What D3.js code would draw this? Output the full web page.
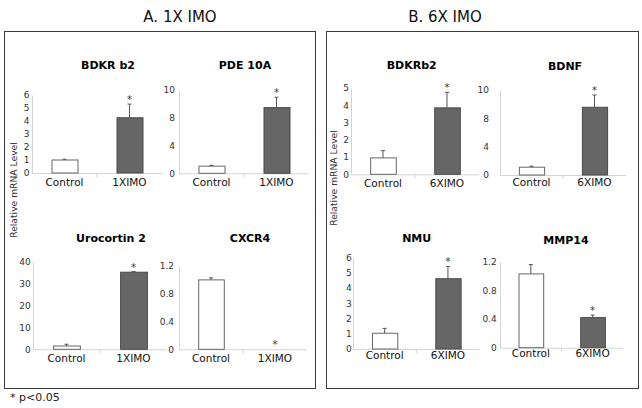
<!DOCTYPE html>
<html><head><meta charset="utf-8">
<script src="https://cdn.jsdelivr.net/npm/d3@7"></script>
<style>
html,body{margin:0;padding:0;background:#fff;}
svg{display:block;font-family:"DejaVu Sans",Verdana,sans-serif;}
</style></head>
<body><svg id="chart" width="642" height="408"></svg>
<script>
// ---- data ----
const panelTitles = ["A.  1X IMO", "B. 6X IMO"];
const genes = ["BDKR b2", "PDE 10A", "Urocortin 2", "CXCR4", "BDKRb2", "BDNF", "NMU", "MMP14"];
const groupsA = ["Control", "1XIMO"];
const groupsB = ["Control", "6XIMO"];
const controlMean = [1.0, 1.03, 1.5, 1.0, 0.95, 1.1, 1.03, 1.03];
const controlErr  = [0.06, 0.12, 0.8, 0.03, 0.42, 0.15, 0.32, 0.13];
const treatedMean = [4.25, 8.73, 35.2, 0.0, 3.85, 8.78, 4.6, 0.42];
const treatedErr  = [1.05, 0.75, 0.3, 0.0, 0.9, 0.87, 0.8, 0.035];
const treatedSig  = [true, true, true, true, true, true, true, true];
const yTickValues = [
  [0,1,2,3,4,5,6], [0,4,8,10], [0,10,20,30,40], [0,0.4,0.8,1.2],
  [0,1,2,3,4,5], [0,4,8,10], [0,1,2,3,4,5,6], [0,0.4,0.8,1.2]
];
const yAxisTitle = "Relative mRNA Level";
const footnote = "* p<0.05";

// ---- layout (positions only) ----
const layout = [
  {ax:32,  base:173,   top:95,    band:65,   tx:108,   ty:68.5,  ly:186,   pad:2.5, panel:0},
  {ax:179, base:173.3, top:90,    band:65,   tx:245,   ty:68.5,  ly:186,   pad:4,   panel:0},
  {ax:33,  base:349.3, top:261.7, band:67,   tx:111,   ty:241.5, ly:362,   pad:2.3, panel:0},
  {ax:179, base:349.3, top:266,   band:64,   tx:250,   ty:241.5, ly:362,   pad:5,   panel:0},
  {ax:351, base:174.3, top:88,    band:64,   tx:411.7, ty:68.5,  ly:186.5, pad:2,   panel:1},
  {ax:500, base:175,   top:90,    band:63,   tx:565,   ty:69.5,  ly:186,   pad:11,  panel:1},
  {ax:353, base:349,   top:257.3, band:63.3, tx:416.7, ty:241.5, ly:359.3, pad:1.3, panel:1},
  {ax:500, base:347.7, top:261.7, band:61.7, tx:566,   ty:244,   ly:356.7, pad:3.3, panel:1}
];

const svg = d3.select("#chart");

// panel frames and titles
const frames = [{x:4, y:31, w:311, h:357, tx:180, yt:{x:14, y:190}}, {x:326, y:31, w:312, h:357, tx:445, yt:{x:334, y:178}}];
frames.forEach((f, i) => {
  svg.append("rect").attr("x", f.x + 0.5).attr("y", f.y + 0.5).attr("width", f.w).attr("height", f.h)
    .attr("fill", "none").attr("stroke", "#3a3a3a").attr("stroke-width", 1);
  svg.append("text").attr("x", f.tx).attr("y", 22).attr("text-anchor", "middle")
    .attr("font-size", 15).attr("fill", "#111").text(panelTitles[i]);
  svg.append("text").attr("transform", `translate(${f.yt.x + 3},${f.yt.y}) rotate(-90)`)
    .attr("text-anchor", "middle").attr("font-size", 9.2).attr("fill", "#333").text(yAxisTitle);
});

svg.append("text").attr("x", 10).attr("y", 401).attr("font-size", 11).attr("fill", "#222").text(footnote);

genes.forEach((gene, i) => {
  const L = layout[i];
  const cats = L.panel === 0 ? groupsA : groupsB;
  const ticks = yTickValues[i];
  const y = d3.scaleLinear().domain(ticks)
    .range(ticks.map((_, k) => L.base - k * (L.base - L.top) / (ticks.length - 1)));
  const x = d3.scaleBand().domain(cats).range([L.ax, L.ax + 2 * L.band]).paddingInner(0.6).paddingOuter(0.3);
  const g = svg.append("g");

  // title
  g.append("text").attr("x", L.tx).attr("y", L.ty).attr("text-anchor", "middle")
    .attr("font-size", 11).attr("font-weight", "bold").attr("fill", "#000").text(gene);

  // y axis
  const yAxis = d3.axisLeft(y).tickValues(ticks).tickSize(0).tickPadding(L.pad)
    .tickFormat(d => d === 0 ? "0" : String(d));
  const ag = g.append("g").attr("transform", `translate(${L.ax},0)`).call(yAxis);
  ag.select(".domain").attr("stroke", "#d4d4d4");
  ag.selectAll("text").attr("font-size", 9).attr("fill", "#333").attr("font-family", "DejaVu Sans, sans-serif");

  // baseline + category separators
  g.append("line").attr("x1", L.ax).attr("x2", L.ax + 2 * L.band).attr("y1", L.base + 0.5).attr("y2", L.base + 0.5)
    .attr("stroke", "#d4d4d4");
  g.append("line").attr("x1", L.ax + L.band).attr("x2", L.ax + L.band).attr("y1", L.base).attr("y2", L.base + 4)
    .attr("stroke", "#d4d4d4");

  const rows = [
    {cat: cats[0], mean: controlMean[i], err: controlErr[i], fill: "#ffffff", stroke: "#666", sig: false},
    {cat: cats[1], mean: treatedMean[i], err: treatedErr[i], fill: "#666666", stroke: "#4a4a4a", sig: treatedSig[i]}
  ];

  rows.forEach(r => {
    const cx = x(r.cat) + x.bandwidth() / 2;
    if (r.mean > 0) {
      g.append("rect").attr("x", x(r.cat) + 0.5).attr("y", y(r.mean))
        .attr("width", x.bandwidth()).attr("height", y(0) - y(r.mean))
        .attr("fill", r.fill).attr("stroke", r.stroke).attr("stroke-width", 1);
    }
    if (r.err > 0) {
      g.append("line").attr("x1", cx).attr("x2", cx).attr("y1", y(r.mean)).attr("y2", y(r.mean + r.err))
        .attr("stroke", "#555").attr("stroke-width", 1);
      g.append("line").attr("x1", cx - 2).attr("x2", cx + 2).attr("y1", y(r.mean + r.err)).attr("y2", y(r.mean + r.err))
        .attr("stroke", "#555").attr("stroke-width", 1);
    }
    if (r.sig) {
      g.append("text").attr("x", cx).attr("y", y(r.mean + r.err) - 1).attr("text-anchor", "middle")
        .attr("font-size", 10).attr("fill", "#333").text("*");
    }
    g.append("text").attr("x", cx).attr("y", L.ly).attr("text-anchor", "middle")
      .attr("font-size", 10.5).attr("fill", "#111").text(r.cat);
  });
});
</script></body></html>
